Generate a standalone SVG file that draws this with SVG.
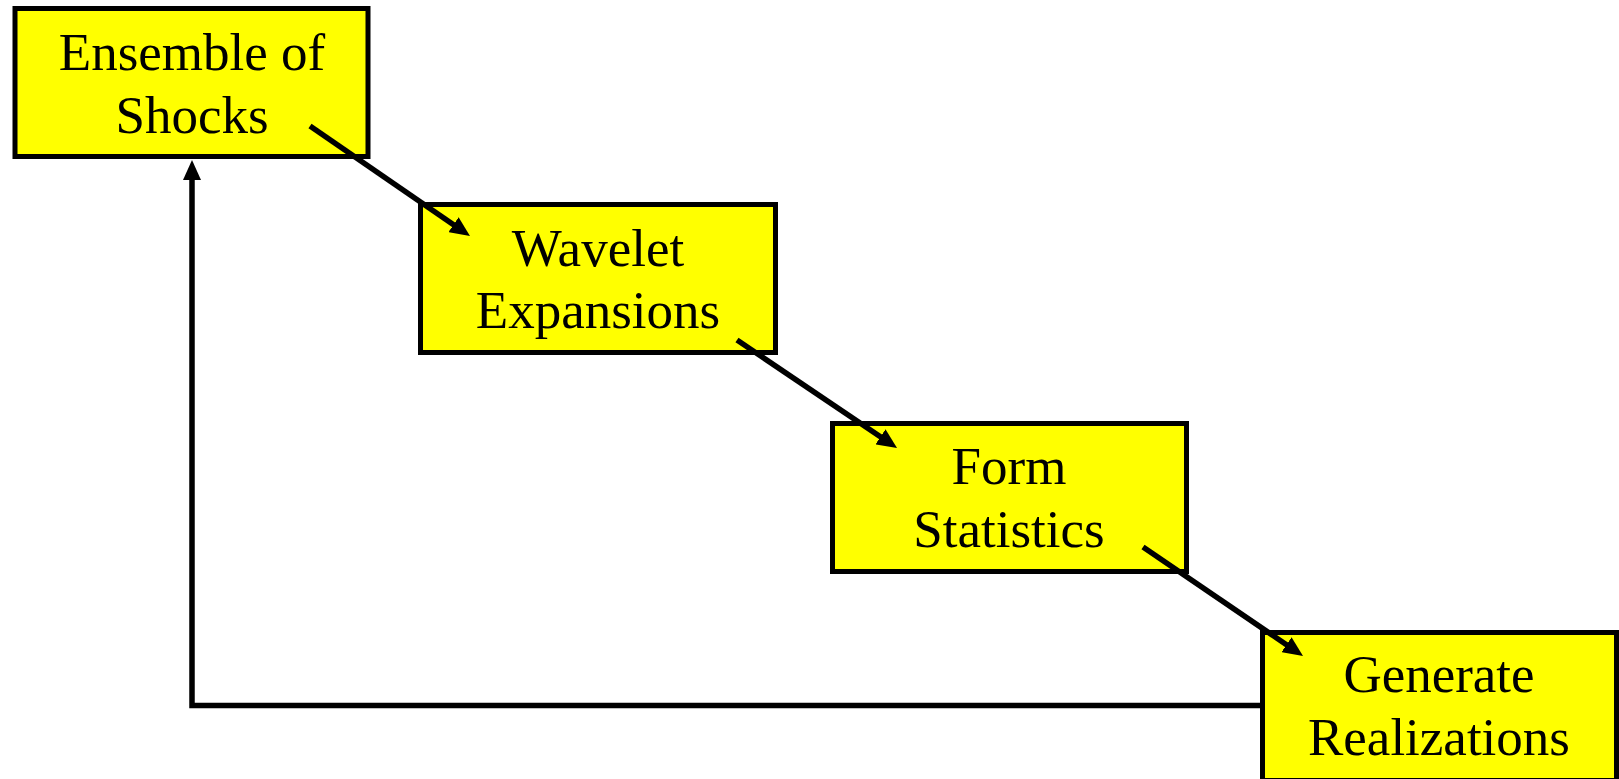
<svg xmlns="http://www.w3.org/2000/svg" width="1619" height="779" viewBox="0 0 1619 779">
<style>
.box{fill:#ffff00;stroke:#000;stroke-width:5;stroke-linejoin:miter}
.lbl{font-family:"Liberation Serif","Times New Roman",serif;font-size:53px;fill:#000;text-anchor:middle}
.conn{fill:none;stroke:#000;stroke-width:5.5}
</style>
<defs>
<marker id="ah" markerUnits="userSpaceOnUse" markerWidth="20" markerHeight="18" refX="8" refY="9" orient="auto" viewBox="0 0 20 18">
<path d="M0,0 L20,9 L0,18 z" fill="#000"/>
</marker>
</defs>
<rect width="1619" height="779" fill="#fff"/>
<g id="n1">
<rect class="box" x="15" y="8.5" width="353" height="148"/>
<text class="lbl" x="192" y="70">Ensemble of</text>
<text class="lbl" x="192" y="133">Shocks</text>
</g>
<g id="n2">
<rect class="box" x="420.5" y="204.5" width="355" height="148"/>
<text class="lbl" x="598" y="266">Wavelet</text>
<text class="lbl" x="598" y="328">Expansions</text>
</g>
<g id="n3">
<rect class="box" x="832.5" y="423.5" width="354" height="148"/>
<text class="lbl" x="1009" y="484">Form</text>
<text class="lbl" x="1009" y="547">Statistics</text>
</g>
<g id="n4">
<rect class="box" x="1262.5" y="632.5" width="354" height="148"/>
<text class="lbl" x="1439" y="692">Generate</text>
<text class="lbl" x="1439" y="755">Realizations</text>
</g>
<g id="connectors">
<path class="conn" d="M310,126 L460.1,229.2" marker-end="url(#ah)"/>
<path class="conn" d="M737,340 L887.1,441.3" marker-end="url(#ah)"/>
<path class="conn" d="M1143,547 L1293.1,649.2" marker-end="url(#ah)"/>
<path class="conn" d="M1260,705.5 H192 V172" marker-end="url(#ah)"/>
</g>
</svg>
